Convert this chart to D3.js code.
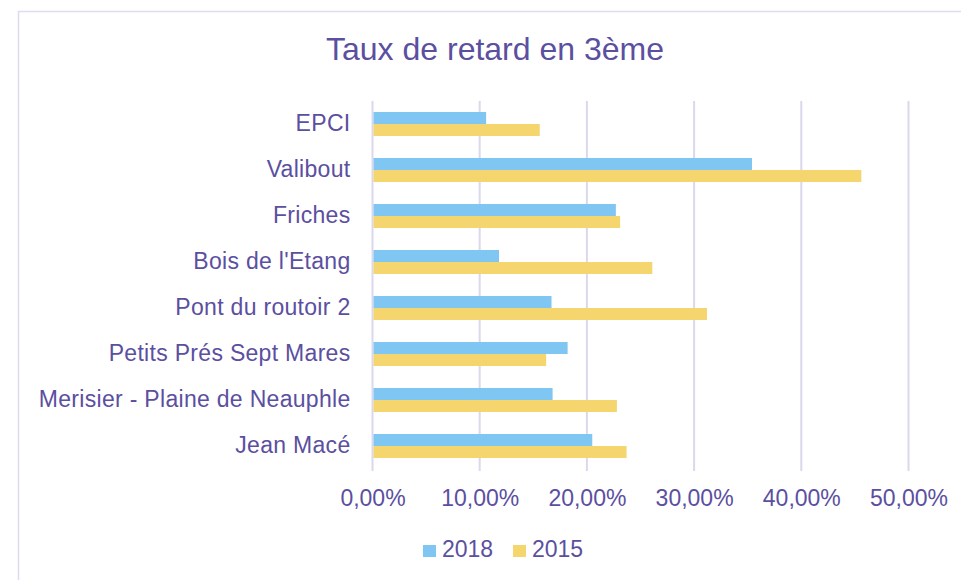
<!DOCTYPE html>
<html>
<head>
<meta charset="utf-8">
<script src="https://cdn.jsdelivr.net/npm/d3@7"></script>
<style>
  html, body { margin: 0; padding: 0; background: #ffffff; }
  svg { display: block; font-family: "Liberation Sans", Arial, sans-serif; }
</style>
</head>
<body>
<svg id="chart" width="961" height="580"></svg>
<script>
const title = "Taux de retard en 3ème";
const categories = ["EPCI", "Valibout", "Friches", "Bois de l'Etang", "Pont du routoir 2",
  "Petits Prés Sept Mares", "Merisier - Plaine de Neauphle", "Jean Macé"];
const seriesNames = ["2018", "2015"];
const values2018 = [0.106, 0.354, 0.227, 0.118, 0.167, 0.182, 0.168, 0.205];
const values2015 = [0.156, 0.456, 0.231, 0.261, 0.312, 0.162, 0.228, 0.237];
const tickValues = [0, 0.1, 0.2, 0.3, 0.4, 0.5];
const colors = ["#7fc6f2", "#f4d56e"];

const textColor = "#5b4fa0";
const gridColor = "#dbd8ec";
const fontFam = "'Liberation Sans', Arial, sans-serif";

const svg = d3.select("#chart");

// outer chart border
svg.append("rect")
  .attr("x", 18.5).attr("y", 11.5)
  .attr("width", 1000).attr("height", 1000)
  .attr("fill", "#ffffff")
  .attr("stroke", "#dddcee").attr("stroke-width", 1.5);

svg.append("text")
  .attr("x", 495).attr("y", 60)
  .attr("text-anchor", "middle")
  .attr("fill", textColor)
  .attr("font-size", 32)
  .text(title);

const x = d3.scaleLinear().domain([0, 0.5]).range([372.5, 908.5]);
const y = d3.scaleBand().domain(categories).range([101, 469])
  .paddingInner(22 / 46).paddingOuter(11 / 46);
const ySub = d3.scaleBand().domain(seriesNames).range([0, y.bandwidth()]);

// gridlines
svg.append("g").selectAll("line").data(tickValues).join("line")
  .attr("x1", d => x(d)).attr("x2", d => x(d))
  .attr("y1", 101).attr("y2", 471)
  .attr("stroke", gridColor).attr("stroke-width", 2);

// x axis labels
const fmt = d => d3.format(".2f")(d * 100).replace(".", ",") + "%";
const xAxis = d3.axisBottom(x).tickValues(tickValues).tickFormat(fmt).tickSize(0).tickPadding(0);
const gx = svg.append("g").attr("transform", "translate(0,490)").call(xAxis);
gx.select(".domain").remove();
gx.selectAll("text").attr("fill", textColor).attr("font-size", 23)
  .attr("font-family", fontFam).attr("dy", "0.71em");

// y axis labels
const yAxis = d3.axisLeft(y).tickSize(0).tickPadding(22);
const gy = svg.append("g").attr("transform", "translate(372.5,0)").call(yAxis);
gy.select(".domain").remove();
gy.selectAll("text").attr("fill", textColor).attr("font-size", 23)
  .attr("letter-spacing", 0.3)
  .attr("font-family", fontFam);

// bars
const data = categories.map((c, i) => ({ cat: c, vals: [values2018[i], values2015[i]] }));
const groups = svg.append("g").selectAll("g").data(data).join("g")
  .attr("transform", d => `translate(0,${y(d.cat)})`);
groups.selectAll("rect").data(d => d.vals.map((v, j) => ({ s: seriesNames[j], v, j })))
  .join("rect")
  .attr("x", x(0) + 1)
  .attr("y", d => ySub(d.s))
  .attr("width", d => x(d.v) - x(0) - 1)
  .attr("height", ySub.bandwidth())
  .attr("fill", d => colors[d.j]);

// legend
const legend = svg.append("g").attr("transform", "translate(423,545)");
const legendX = [0, 90];
seriesNames.forEach((s, i) => {
  const g = legend.append("g").attr("transform", `translate(${legendX[i]},0)`);
  g.append("rect").attr("width", 13).attr("height", 12).attr("fill", colors[i]);
  g.append("text").attr("x", 19).attr("y", 12)
    .attr("fill", textColor).attr("font-size", 23).text(s);
});
</script>
</body>
</html>
